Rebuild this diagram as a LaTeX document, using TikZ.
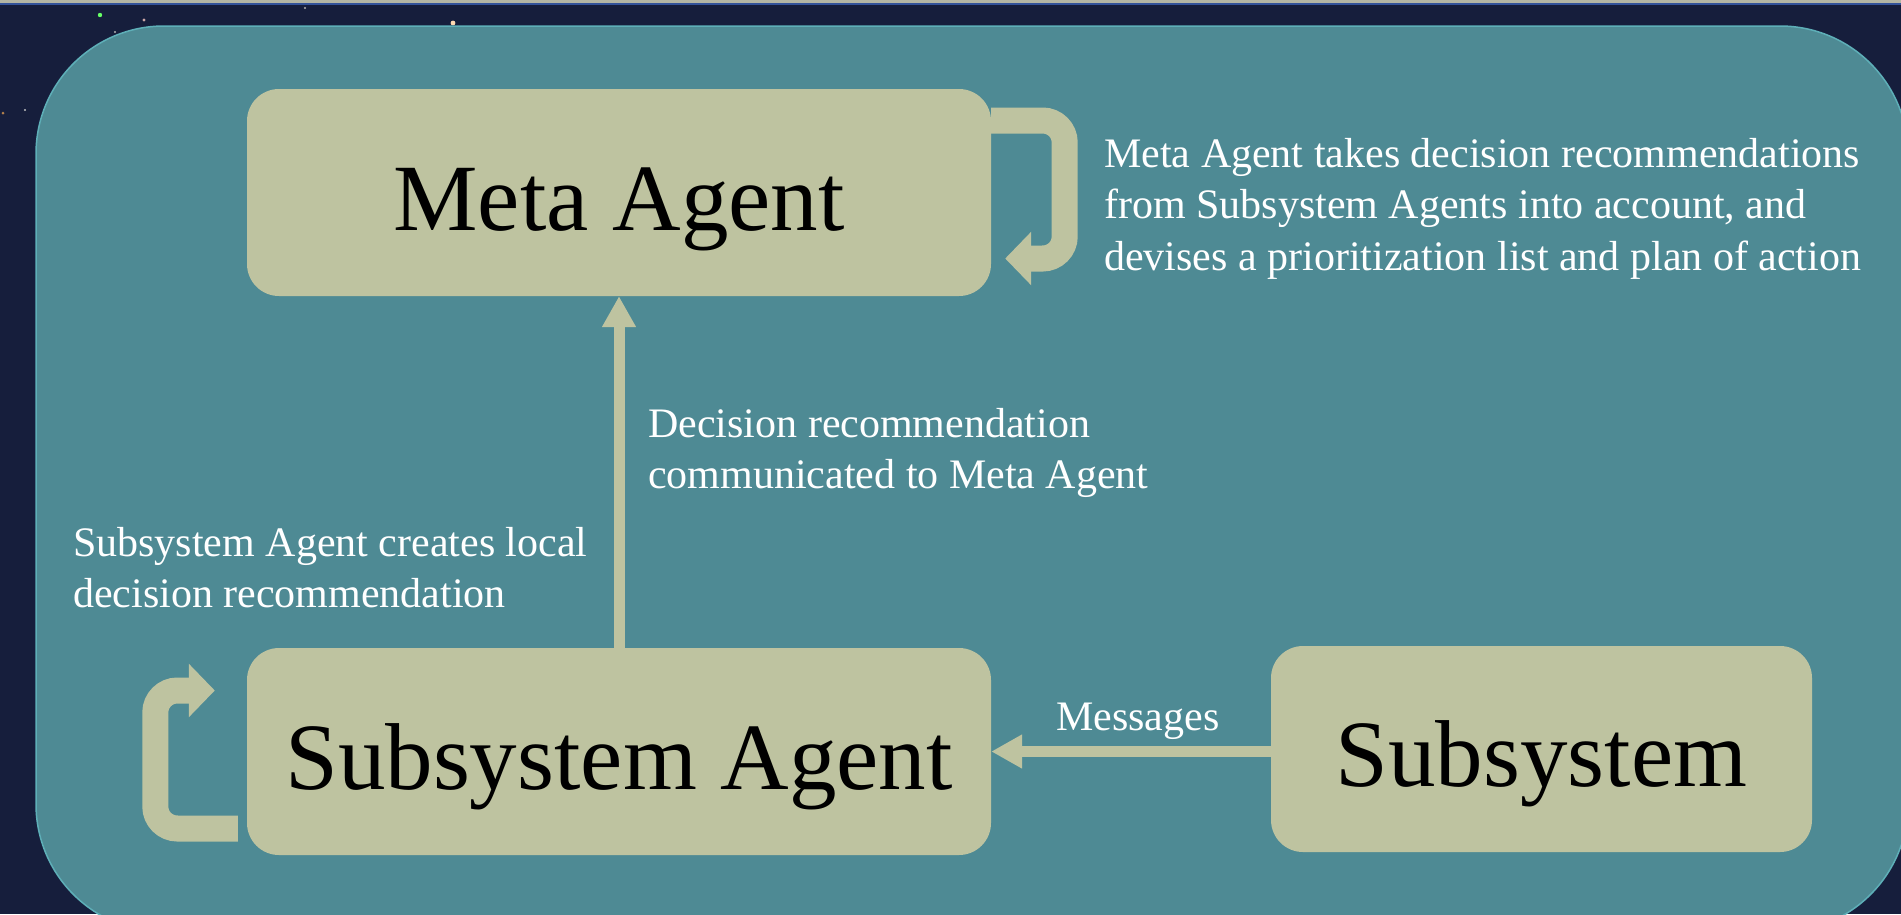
\documentclass[tikz,border=0pt]{standalone}
\usepackage{fontspec}
\setmainfont{Liberation Serif}
\usetikzlibrary{arrows.meta}
\definecolor{navy}{HTML}{161E3C}
\definecolor{tealbg}{HTML}{4E8A94}
\definecolor{tealedge}{HTML}{5EAFB8}
\definecolor{boxfill}{HTML}{BEC3A0}
\definecolor{topstrip}{HTML}{B4B6A4}
\definecolor{topblue}{HTML}{33539A}
\tikzset{
  agentbox/.style={fill=boxfill, draw=none, rounded corners=32pt, inner sep=0pt,
    font=\fontsize{95}{110}\selectfont, text=black, text height=75pt, text depth=0pt},
  note/.style={inner sep=0pt, text=white, align=left,
    font=\fontsize{42}{51.5}\selectfont},
  flowarrow/.style={draw=boxfill, line width=11pt,
    -{Triangle[width=32pt,length=31pt]}},
  selfloop/.style={draw=boxfill, line width=26pt, rounded corners=22pt,
    -{Triangle[width=52pt,length=26pt]}},
  stardot/.style={fill=#1, draw=none}
}
\begin{document}
\begin{tikzpicture}[x=1pt,y=-1pt]
\useasboundingbox (0,0) rectangle (1901,914);
\clip (0,0) rectangle (1901,914);
% background
\fill[navy] (0,0) rectangle (1901,914);
\fill[topstrip] (0,0) rectangle (1901,3);
\fill[topblue] (0,3) rectangle (1901,5);
\fill[stardot=green!60!white] (100,15) circle (2.2);
\fill[stardot=pink!60!gray] (144,20) circle (1.6);
\fill[stardot=orange!30!white] (453,23) circle (2.4);
\fill[stardot=gray!60] (115,32) circle (1.2);
\fill[stardot=gray!50] (25,110) circle (1.2);
\fill[stardot=orange!40!gray] (3,113) circle (1.5);
\fill[stardot=gray!60] (305,8) circle (1.2);
% teal panel
\draw[fill=tealbg, draw=tealedge, line width=1.5pt, rounded corners=128pt]
  (36,26) rectangle (1908,932);
% boxes
\node[agentbox, minimum width=744pt, minimum height=207pt] (meta) at (619,192.5) {Meta Agent};
\node[agentbox, minimum width=744pt, minimum height=207pt] (sa) at (619,751.5) {Subsystem Agent};
\node[agentbox, minimum width=541pt, minimum height=206pt] (ss) at (1541.5,749) {Subsystem};
% connectors
\draw[flowarrow] (sa.north) -- (meta.south);
\draw[flowarrow] (ss.west |- sa.east) -- (sa.east);
\draw[selfloop] ([yshift=72pt]meta.east) -- ++(73.5,0) -- ++(0,138)
  -- ([xshift=14pt,yshift=-66pt]meta.east);
\draw[selfloop] ([xshift=-9pt,yshift=-77pt]sa.west) -- ++(-82.5,0) -- ++(0,-138)
  -- ([xshift=-32pt,yshift=61pt]sa.west);
% labels (base anchor = baseline of the last line)
\node[note, anchor=base west] (metanote) at (1104,270)
  {Meta Agent takes decision recommendations\\from Subsystem Agents into account, and\\devises a prioritization list and plan of action};
\node[note, anchor=base west] (decnote) at (648,488.5)
  {Decision recommendation\\communicated to Meta Agent};
\node[note, anchor=base west] (localnote) at (73,607.5)
  {Subsystem Agent creates local\\decision recommendation};
\node[note, anchor=base west] (msgnote) at (1056,730) {Messages};
\end{tikzpicture}
\end{document}
